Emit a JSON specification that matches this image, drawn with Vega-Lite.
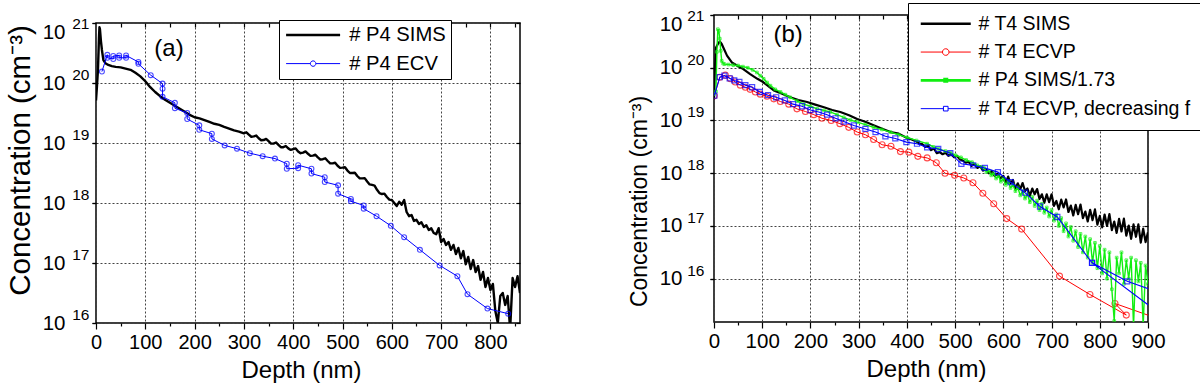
{
"$schema": "https://vega.github.io/schema/vega-lite/v6.json",
"background": "white",
"padding": {"top": 1, "left": 4, "right": 0, "bottom": 0},
"spacing": 105,
"resolve": {"scale": {"x": "independent", "y": "independent", "color": "independent"}},
"config": {
  "font": "Liberation Sans",
  "view": {"stroke": "#000000", "strokeWidth": 1.5},
  "axis": {"domain": false, "labelColor": "#000", "titleColor": "#000", "titleFontWeight": "normal", "tickColor": "#000", "tickWidth": 1.2, "gridColor": "#444", "gridDash": [2, 2], "gridWidth": 1, "labelFont": "Liberation Sans", "titleFont": "Liberation Sans", "labelFlush": false, "labelOverlap": false},
  "legend": {"labelFont": "Liberation Sans", "labelColor": "#000", "labelLimit": 1000}
},
"hconcat": [
 {"vconcat": [
   {"width": 1, "height": 8, "view": {"stroke": null}, "data": {"values": [{"s": 0}]}, "mark": {"type": "point", "opacity": 0}, "encoding": {}},
   {"width": 424, "height": 300,
    "data": {"values": [
{"s":"# P4 SIMS","d":0,"c":5.13e19},{"s":"# P4 SIMS","d":2,"c":8.91e19},{"s":"# P4 SIMS","d":4,"c":1.66e20},{"s":"# P4 SIMS","d":6,"c":5.62e20},{"s":"# P4 SIMS","d":7,"c":8.51e20},{"s":"# P4 SIMS","d":8,"c":7.94e20},{"s":"# P4 SIMS","d":10,"c":5.01e20},{"s":"# P4 SIMS","d":12,"c":3.55e20},{"s":"# P4 SIMS","d":15,"c":2.40e20},{"s":"# P4 SIMS","d":19,"c":2.14e20},{"s":"# P4 SIMS","d":25,"c":2.00e20},{"s":"# P4 SIMS","d":32,"c":1.91e20},{"s":"# P4 SIMS","d":40,"c":1.86e20},{"s":"# P4 SIMS","d":50,"c":1.82e20},{"s":"# P4 SIMS","d":60,"c":1.74e20},{"s":"# P4 SIMS","d":70,"c":1.66e20},{"s":"# P4 SIMS","d":80,"c":1.48e20},{"s":"# P4 SIMS","d":90,"c":1.29e20},{"s":"# P4 SIMS","d":100,"c":1.07e20},{"s":"# P4 SIMS","d":110,"c":8.51e19},{"s":"# P4 SIMS","d":120,"c":7.08e19},{"s":"# P4 SIMS","d":130,"c":6.03e19},{"s":"# P4 SIMS","d":140,"c":5.25e19},{"s":"# P4 SIMS","d":150,"c":4.68e19},{"s":"# P4 SIMS","d":160,"c":4.17e19},{"s":"# P4 SIMS","d":170,"c":3.72e19},{"s":"# P4 SIMS","d":180,"c":3.31e19},{"s":"# P4 SIMS","d":190,"c":2.95e19},{"s":"# P4 SIMS","d":200,"c":2.69e19},{"s":"# P4 SIMS","d":210,"c":2.57e19},{"s":"# P4 SIMS","d":220,"c":2.40e19},{"s":"# P4 SIMS","d":230,"c":2.24e19},{"s":"# P4 SIMS","d":240,"c":2.09e19},{"s":"# P4 SIMS","d":250,"c":2.00e19},{"s":"# P4 SIMS","d":260,"c":1.86e19},{"s":"# P4 SIMS","d":270,"c":1.74e19},{"s":"# P4 SIMS","d":280,"c":1.62e19},{"s":"# P4 SIMS","d":290,"c":1.55e19},{"s":"# P4 SIMS","d":300,"c":1.45e19},{"s":"# P4 SIMS","d":305,"c":1.51e19},{"s":"# P4 SIMS","d":310,"c":1.38e19},{"s":"# P4 SIMS","d":315,"c":1.27e19},{"s":"# P4 SIMS","d":320,"c":1.29e19},{"s":"# P4 SIMS","d":325,"c":1.33e19},{"s":"# P4 SIMS","d":330,"c":1.20e19},{"s":"# P4 SIMS","d":335,"c":1.11e19},{"s":"# P4 SIMS","d":340,"c":1.12e19},{"s":"# P4 SIMS","d":345,"c":1.17e19},{"s":"# P4 SIMS","d":350,"c":1.07e19},{"s":"# P4 SIMS","d":355,"c":9.77e18},{"s":"# P4 SIMS","d":360,"c":9.77e18},{"s":"# P4 SIMS","d":365,"c":1.02e19},{"s":"# P4 SIMS","d":370,"c":9.33e18},{"s":"# P4 SIMS","d":375,"c":8.51e18},{"s":"# P4 SIMS","d":380,"c":8.51e18},{"s":"# P4 SIMS","d":385,"c":8.91e18},{"s":"# P4 SIMS","d":390,"c":8.13e18},{"s":"# P4 SIMS","d":395,"c":7.67e18},{"s":"# P4 SIMS","d":400,"c":7.94e18},{"s":"# P4 SIMS","d":405,"c":8.13e18},{"s":"# P4 SIMS","d":410,"c":7.24e18},{"s":"# P4 SIMS","d":415,"c":6.76e18},{"s":"# P4 SIMS","d":420,"c":6.92e18},{"s":"# P4 SIMS","d":425,"c":7.24e18},{"s":"# P4 SIMS","d":430,"c":6.61e18},{"s":"# P4 SIMS","d":435,"c":6.10e18},{"s":"# P4 SIMS","d":440,"c":6.17e18},{"s":"# P4 SIMS","d":445,"c":6.38e18},{"s":"# P4 SIMS","d":450,"c":5.75e18},{"s":"# P4 SIMS","d":455,"c":5.31e18},{"s":"# P4 SIMS","d":460,"c":5.37e18},{"s":"# P4 SIMS","d":465,"c":5.56e18},{"s":"# P4 SIMS","d":470,"c":5.01e18},{"s":"# P4 SIMS","d":475,"c":4.57e18},{"s":"# P4 SIMS","d":480,"c":4.57e18},{"s":"# P4 SIMS","d":485,"c":4.68e18},{"s":"# P4 SIMS","d":490,"c":4.17e18},{"s":"# P4 SIMS","d":495,"c":3.85e18},{"s":"# P4 SIMS","d":500,"c":3.89e18},{"s":"# P4 SIMS","d":505,"c":3.94e18},{"s":"# P4 SIMS","d":510,"c":3.47e18},{"s":"# P4 SIMS","d":515,"c":3.16e18},{"s":"# P4 SIMS","d":520,"c":3.16e18},{"s":"# P4 SIMS","d":525,"c":3.20e18},{"s":"# P4 SIMS","d":530,"c":2.82e18},{"s":"# P4 SIMS","d":535,"c":2.57e18},{"s":"# P4 SIMS","d":540,"c":2.57e18},{"s":"# P4 SIMS","d":545,"c":2.60e18},{"s":"# P4 SIMS","d":550,"c":2.29e18},{"s":"# P4 SIMS","d":555,"c":2.04e18},{"s":"# P4 SIMS","d":560,"c":2.00e18},{"s":"# P4 SIMS","d":565,"c":1.95e18},{"s":"# P4 SIMS","d":570,"c":1.66e18},{"s":"# P4 SIMS","d":575,"c":1.46e18},{"s":"# P4 SIMS","d":580,"c":1.41e18},{"s":"# P4 SIMS","d":585,"c":1.43e18},{"s":"# P4 SIMS","d":590,"c":1.26e18},{"s":"# P4 SIMS","d":595,"c":1.14e18},{"s":"# P4 SIMS","d":600,"c":1.12e18},{"s":"# P4 SIMS","d":605,"c":1.00e18},{"s":"# P4 SIMS","d":610,"c":8.91e17},{"s":"# P4 SIMS","d":615,"c":1.05e18},{"s":"# P4 SIMS","d":620,"c":9.33e17},{"s":"# P4 SIMS","d":625,"c":1.12e18},{"s":"# P4 SIMS","d":630,"c":7.08e17},{"s":"# P4 SIMS","d":635,"c":6.03e17},{"s":"# P4 SIMS","d":640,"c":6.31e17},{"s":"# P4 SIMS","d":645,"c":5.01e17},{"s":"# P4 SIMS","d":650,"c":5.25e17},{"s":"# P4 SIMS","d":655,"c":4.47e17},{"s":"# P4 SIMS","d":660,"c":4.79e17},{"s":"# P4 SIMS","d":665,"c":3.98e17},{"s":"# P4 SIMS","d":670,"c":4.27e17},{"s":"# P4 SIMS","d":675,"c":3.55e17},{"s":"# P4 SIMS","d":680,"c":3.80e17},{"s":"# P4 SIMS","d":685,"c":3.16e17},{"s":"# P4 SIMS","d":690,"c":3.02e17},{"s":"# P4 SIMS","d":695,"c":3.80e17},{"s":"# P4 SIMS","d":700,"c":2.24e17},{"s":"# P4 SIMS","d":705,"c":2.51e17},{"s":"# P4 SIMS","d":710,"c":2.00e17},{"s":"# P4 SIMS","d":715,"c":2.24e17},{"s":"# P4 SIMS","d":720,"c":1.66e17},{"s":"# P4 SIMS","d":725,"c":2.00e17},{"s":"# P4 SIMS","d":730,"c":1.41e17},{"s":"# P4 SIMS","d":735,"c":1.78e17},{"s":"# P4 SIMS","d":740,"c":1.20e17},{"s":"# P4 SIMS","d":745,"c":1.58e17},{"s":"# P4 SIMS","d":750,"c":9.55e16},{"s":"# P4 SIMS","d":755,"c":1.26e17},{"s":"# P4 SIMS","d":760,"c":7.94e16},{"s":"# P4 SIMS","d":765,"c":1.12e17},{"s":"# P4 SIMS","d":770,"c":7.08e16},{"s":"# P4 SIMS","d":775,"c":8.91e16},{"s":"# P4 SIMS","d":780,"c":5.25e16},{"s":"# P4 SIMS","d":785,"c":7.08e16},{"s":"# P4 SIMS","d":790,"c":3.98e16},{"s":"# P4 SIMS","d":795,"c":5.62e16},{"s":"# P4 SIMS","d":800,"c":3.55e16},{"s":"# P4 SIMS","d":805,"c":4.47e16},{"s":"# P4 SIMS","d":810,"c":1.58e16},{"s":"# P4 SIMS","d":815,"c":1.00e16},{"s":"# P4 SIMS","d":820,"c":2.82e16},{"s":"# P4 SIMS","d":825,"c":3.16e16},{"s":"# P4 SIMS","d":830,"c":2.00e16},{"s":"# P4 SIMS","d":835,"c":2.82e16},{"s":"# P4 SIMS","d":840,"c":7.94e15},{"s":"# P4 SIMS","d":845,"c":5.62e16},{"s":"# P4 SIMS","d":850,"c":3.98e16},{"s":"# P4 SIMS","d":855,"c":6.03e16},{"s":"# P4 SIMS","d":860,"c":3.16e16},
{"s":"# P4 ECV","o":1,"d":12,"c":1.55e20},{"s":"# P4 ECV","o":2,"d":23,"c":2.95e20},{"s":"# P4 ECV","o":3,"d":23,"c":2.63e20},{"s":"# P4 ECV","o":4,"d":35,"c":2.51e20},{"s":"# P4 ECV","o":5,"d":35,"c":2.82e20},{"s":"# P4 ECV","o":6,"d":47,"c":2.88e20},{"s":"# P4 ECV","o":7,"d":47,"c":2.63e20},{"s":"# P4 ECV","o":8,"d":61,"c":2.63e20},{"s":"# P4 ECV","o":9,"d":61,"c":2.88e20},{"s":"# P4 ECV","o":10,"d":86,"c":2.24e20},{"s":"# P4 ECV","o":11,"d":86,"c":2.09e20},{"s":"# P4 ECV","o":12,"d":111,"c":1.35e20},{"s":"# P4 ECV","o":13,"d":135,"c":9.77e19},{"s":"# P4 ECV","o":14,"d":135,"c":8.04e19},{"s":"# P4 ECV","o":15,"d":135,"c":5.89e19},{"s":"# P4 ECV","o":16,"d":160,"c":4.68e19},{"s":"# P4 ECV","o":17,"d":160,"c":3.80e19},{"s":"# P4 ECV","o":18,"d":185,"c":3.16e19},{"s":"# P4 ECV","o":19,"d":185,"c":2.51e19},{"s":"# P4 ECV","o":20,"d":209.5,"c":1.97e19},{"s":"# P4 ECV","o":21,"d":209.5,"c":1.66e19},{"s":"# P4 ECV","o":22,"d":235,"c":1.43e19},{"s":"# P4 ECV","o":23,"d":235,"c":1.17e19},{"s":"# P4 ECV","o":24,"d":261,"c":9.12e18},{"s":"# P4 ECV","o":25,"d":286,"c":8.04e18},{"s":"# P4 ECV","o":26,"d":312,"c":6.76e18},{"s":"# P4 ECV","o":27,"d":338,"c":6.03e18},{"s":"# P4 ECV","o":28,"d":363,"c":5.50e18},{"s":"# P4 ECV","o":29,"d":387,"c":4.52e18},{"s":"# P4 ECV","o":30,"d":387,"c":3.72e18},{"s":"# P4 ECV","o":31,"d":410,"c":3.80e18},{"s":"# P4 ECV","o":32,"d":410,"c":4.27e18},{"s":"# P4 ECV","o":33,"d":437,"c":3.72e18},{"s":"# P4 ECV","o":34,"d":437,"c":3.09e18},{"s":"# P4 ECV","o":35,"d":464,"c":2.69e18},{"s":"# P4 ECV","o":36,"d":464,"c":2.24e18},{"s":"# P4 ECV","o":37,"d":491,"c":1.97e18},{"s":"# P4 ECV","o":38,"d":491,"c":1.43e18},{"s":"# P4 ECV","o":39,"d":517,"c":1.17e18},{"s":"# P4 ECV","o":40,"d":517,"c":1.07e18},{"s":"# P4 ECV","o":41,"d":543,"c":9.12e17},{"s":"# P4 ECV","o":42,"d":543,"c":8.04e17},{"s":"# P4 ECV","o":43,"d":569,"c":6.03e17},{"s":"# P4 ECV","o":44,"d":598,"c":4.17e17},{"s":"# P4 ECV","o":45,"d":625,"c":2.69e17},{"s":"# P4 ECV","o":46,"d":657,"c":1.66e17},{"s":"# P4 ECV","o":47,"d":697,"c":9.12e16},{"s":"# P4 ECV","o":48,"d":733,"c":6.03e16},{"s":"# P4 ECV","o":49,"d":753.5,"c":3.02e16},{"s":"# P4 ECV","o":50,"d":794,"c":1.74e16},{"s":"# P4 ECV","o":51,"d":836,"c":1.43e16}
    ]},
    "resolve": {"axis": {"x": "independent", "y": "independent"}},
    "layer": [
     {"transform": [{"filter": "datum.s === '# P4 SIMS'"}],
      "mark": {"type": "line", "strokeWidth": 2.4, "clip": true, "strokeJoin": "round"},
      "encoding": {
        "x": {"field": "d", "type": "quantitative", "scale": {"domain": [0, 860], "nice": false, "zero": false},
              "axis": {"orient": "bottom", "values": [0,100,200,300,400,500,600,700,800], "grid": true, "tickSize": 6, "labelFontSize": 20, "labelPadding": 3, "title": "Depth (nm)", "titleFontSize": 24, "titlePadding": 6, "titleX": 205}},
        "y": {"field": "c", "type": "quantitative", "scale": {"type": "log", "domain": [1e16, 1e21], "nice": false},
              "axis": {"orient": "left", "values": [1e16,1e17,1e18,1e19,1e20,1e21], "grid": true, "tickSize": 4, "labelExpr": "'10'", "labelFontSize": 20.5, "labelPadding": 27, "labelOffset": {"condition": {"test": "datum.value > 5e20", "value": 9}, "value": 0}, "title": "Concentration (cm⁻³)", "titleFontSize": 29.5, "titlePadding": 7, "titleY": 137}},
        "color": {"field": "s", "type": "nominal", "scale": {"domain": ["# P4 SIMS", "# P4 ECV"], "range": ["#000000", "#0000ff"]},
                  "legend": {"title": null, "orient": "none", "legendX": 183, "legendY": 5, "strokeColor": "#000", "fillColor": "#fff", "padding": 5, "rowPadding": 7.5, "labelFontSize": 20.2, "labelLimit": 1000, "symbolSize": 256, "symbolOffset": 19, "labelOffset": 26, "symbolStrokeWidth": 1,
                    "encode": {"symbols": {"update": {
                      "shape": {"signal": "datum.value === '# P4 SIMS' ? 'M-3.375,0H3.375' : 'M-3.375,0H-0.34M0.34,0H3.375M0.34,0A0.34,0.34 0 1 1 -0.34,0A0.34,0.34 0 1 1 0.34,0'"},
                      "strokeWidth": {"signal": "datum.value === '# P4 SIMS' ? 2.5 : 1"},
                      "fill": {"value": "transparent"}}}}}}
      }},
     {"transform": [{"filter": "datum.s === '# P4 ECV'"}],
      "mark": {"type": "line", "strokeWidth": 1, "color": "#0000ff", "clip": true},
      "encoding": {
        "x": {"field": "d", "type": "quantitative", "scale": {"domain": [0, 860], "nice": false, "zero": false},
              "axis": {"orient": "top", "values": [50,100,150,200,250,300,350,400,450,500,550,600,650,700,750,800,850], "grid": false, "tickSize": -4, "labels": false, "title": null}},
        "y": {"field": "c", "type": "quantitative", "scale": {"type": "log", "domain": [1e16, 1e21], "nice": false},
              "axis": {"orient": "right", "values": [1e16,1e17,1e18,1e19,1e20,1e21], "grid": false, "tickSize": -4, "labels": false, "title": null}},
        "order": {"field": "o", "type": "quantitative"}
      }},
     {"transform": [{"filter": "datum.s === '# P4 ECV'"}],
      "mark": {"type": "point", "shape": "circle", "filled": false, "size": 24, "strokeWidth": 1.1, "color": "#0000ff", "clip": true},
      "encoding": {
        "x": {"field": "d", "type": "quantitative", "scale": {"domain": [0, 860], "nice": false, "zero": false},
              "axis": {"orient": "bottom", "values": [50,150,250,350,450,550,650,750,850], "grid": false, "tickSize": 3, "labels": false, "title": null}},
        "y": {"field": "c", "type": "quantitative", "scale": {"type": "log", "domain": [1e16, 1e21], "nice": false},
              "axis": {"orient": "left", "values": [1e16,1e17,1e18,1e19,1e20,1e21], "grid": false, "tickSize": 4, "labelExpr": "format(round(log(datum.value)/LN10),'d')", "labelFontSize": 15.5, "labelPadding": 3, "labelOffset": {"condition": {"test": "datum.value > 5e20", "value": 0}, "value": -8.5}, "title": null}}
      }},
     {"data": {"values": [{"d": 148, "c": 3.72e20, "t": "(a)"}]},
      "mark": {"type": "text", "fontSize": 24, "color": "#000"},
      "encoding": {
        "x": {"field": "d", "type": "quantitative", "scale": {"domain": [0, 860], "nice": false, "zero": false}, "axis": null},
        "y": {"field": "c", "type": "quantitative", "scale": {"type": "log", "domain": [1e16, 1e21], "nice": false}, "axis": null},
        "text": {"field": "t"}
      }}
    ]}
  ], "spacing": 0, "bounds": "flush"},
 {"width": 434, "height": 307,
  "data": {"values": [
{"s":"# T4 SIMS","d":0,"c":2.51e19},{"s":"# T4 SIMS","d":2,"c":1.00e20},{"s":"# T4 SIMS","d":4,"c":2.40e20},{"s":"# T4 SIMS","d":8,"c":2.82e20},{"s":"# T4 SIMS","d":12,"c":3.16e20},{"s":"# T4 SIMS","d":16,"c":2.82e20},{"s":"# T4 SIMS","d":20,"c":2.34e20},{"s":"# T4 SIMS","d":27,"c":1.70e20},{"s":"# T4 SIMS","d":37,"c":1.26e20},{"s":"# T4 SIMS","d":50,"c":1.07e20},{"s":"# T4 SIMS","d":60,"c":9.55e19},{"s":"# T4 SIMS","d":75,"c":7.59e19},{"s":"# T4 SIMS","d":90,"c":6.17e19},{"s":"# T4 SIMS","d":100,"c":5.50e19},{"s":"# T4 SIMS","d":110,"c":4.68e19},{"s":"# T4 SIMS","d":124,"c":3.72e19},{"s":"# T4 SIMS","d":140,"c":3.24e19},{"s":"# T4 SIMS","d":158,"c":2.75e19},{"s":"# T4 SIMS","d":175,"c":2.45e19},{"s":"# T4 SIMS","d":193,"c":2.24e19},{"s":"# T4 SIMS","d":210,"c":2.00e19},{"s":"# T4 SIMS","d":228,"c":1.78e19},{"s":"# T4 SIMS","d":245,"c":1.58e19},{"s":"# T4 SIMS","d":262,"c":1.45e19},{"s":"# T4 SIMS","d":280,"c":1.26e19},{"s":"# T4 SIMS","d":297,"c":1.07e19},{"s":"# T4 SIMS","d":315,"c":9.33e18},{"s":"# T4 SIMS","d":331,"c":8.13e18},{"s":"# T4 SIMS","d":350,"c":6.92e18},{"s":"# T4 SIMS","d":366,"c":6.03e18},{"s":"# T4 SIMS","d":383,"c":5.62e18},{"s":"# T4 SIMS","d":400,"c":4.68e18},{"s":"# T4 SIMS","d":410,"c":4.37e18},{"s":"# T4 SIMS","d":420,"c":3.98e18},{"s":"# T4 SIMS","d":426,"c":3.63e18},{"s":"# T4 SIMS","d":432,"c":3.55e18},{"s":"# T4 SIMS","d":438,"c":3.16e18},{"s":"# T4 SIMS","d":444,"c":3.31e18},{"s":"# T4 SIMS","d":450,"c":2.75e18},{"s":"# T4 SIMS","d":456,"c":2.95e18},{"s":"# T4 SIMS","d":462,"c":2.40e18},{"s":"# T4 SIMS","d":468,"c":2.51e18},{"s":"# T4 SIMS","d":474,"c":2.29e18},{"s":"# T4 SIMS","d":480,"c":2.45e18},{"s":"# T4 SIMS","d":486,"c":2.14e18},{"s":"# T4 SIMS","d":492,"c":2.29e18},{"s":"# T4 SIMS","d":498,"c":2.00e18},{"s":"# T4 SIMS","d":504,"c":2.14e18},{"s":"# T4 SIMS","d":510,"c":1.82e18},{"s":"# T4 SIMS","d":516,"c":1.74e18},{"s":"# T4 SIMS","d":522,"c":1.58e18},{"s":"# T4 SIMS","d":528,"c":1.66e18},{"s":"# T4 SIMS","d":534,"c":1.38e18},{"s":"# T4 SIMS","d":540,"c":1.48e18},{"s":"# T4 SIMS","d":546,"c":1.26e18},{"s":"# T4 SIMS","d":552,"c":1.35e18},{"s":"# T4 SIMS","d":558,"c":1.12e18},{"s":"# T4 SIMS","d":564,"c":1.20e18},{"s":"# T4 SIMS","d":570,"c":1.00e18},{"s":"# T4 SIMS","d":576,"c":1.10e18},{"s":"# T4 SIMS","d":582,"c":8.91e17},{"s":"# T4 SIMS","d":588,"c":9.77e17},{"s":"# T4 SIMS","d":594,"c":7.94e17},
{"s":"# T4 SIMS","d":600,"c":8.91e17},{"s":"# T4 SIMS","d":605,"c":6.58e17},{"s":"# T4 SIMS","d":610,"c":8.63e17},{"s":"# T4 SIMS","d":615,"c":6.37e17},{"s":"# T4 SIMS","d":620,"c":7.45e17},{"s":"# T4 SIMS","d":625,"c":5.13e17},{"s":"# T4 SIMS","d":630,"c":6.43e17},{"s":"# T4 SIMS","d":635,"c":4.97e17},{"s":"# T4 SIMS","d":640,"c":6.52e17},{"s":"# T4 SIMS","d":645,"c":4.59e17},{"s":"# T4 SIMS","d":650,"c":5.13e17},{"s":"# T4 SIMS","d":655,"c":3.72e17},{"s":"# T4 SIMS","d":660,"c":5.13e17},{"s":"# T4 SIMS","d":665,"c":3.98e17},{"s":"# T4 SIMS","d":670,"c":5.01e17},{"s":"# T4 SIMS","d":675,"c":3.24e17},{"s":"# T4 SIMS","d":680,"c":3.98e17},{"s":"# T4 SIMS","d":685,"c":2.75e17},{"s":"# T4 SIMS","d":690,"c":3.98e17},{"s":"# T4 SIMS","d":695,"c":2.82e17},{"s":"# T4 SIMS","d":700,"c":3.98e17},{"s":"# T4 SIMS","d":705,"c":2.41e17},{"s":"# T4 SIMS","d":710,"c":2.98e17},{"s":"# T4 SIMS","d":715,"c":2.07e17},{"s":"# T4 SIMS","d":720,"c":3.15e17},{"s":"# T4 SIMS","d":725,"c":2.24e17},{"s":"# T4 SIMS","d":730,"c":3.18e17},{"s":"# T4 SIMS","d":735,"c":1.84e17},{"s":"# T4 SIMS","d":740,"c":2.43e17},{"s":"# T4 SIMS","d":745,"c":1.58e17},{"s":"# T4 SIMS","d":750,"c":2.51e17},{"s":"# T4 SIMS","d":755,"c":1.67e17},{"s":"# T4 SIMS","d":760,"c":2.55e17},{"s":"# T4 SIMS","d":765,"c":1.41e17},{"s":"# T4 SIMS","d":770,"c":1.87e17},{"s":"# T4 SIMS","d":775,"c":1.22e17},{"s":"# T4 SIMS","d":780,"c":2.03e17},{"s":"# T4 SIMS","d":785,"c":1.29e17},{"s":"# T4 SIMS","d":790,"c":2.06e17},{"s":"# T4 SIMS","d":795,"c":1.06e17},{"s":"# T4 SIMS","d":800,"c":1.55e17},{"s":"# T4 SIMS","d":805,"c":9.42e16},{"s":"# T4 SIMS","d":810,"c":1.65e17},{"s":"# T4 SIMS","d":815,"c":1.00e17},{"s":"# T4 SIMS","d":820,"c":1.68e17},{"s":"# T4 SIMS","d":825,"c":8.32e16},{"s":"# T4 SIMS","d":830,"c":1.21e17},{"s":"# T4 SIMS","d":835,"c":7.38e16},{"s":"# T4 SIMS","d":840,"c":1.36e17},{"s":"# T4 SIMS","d":845,"c":7.87e16},{"s":"# T4 SIMS","d":850,"c":1.38e17},{"s":"# T4 SIMS","d":855,"c":6.53e16},{"s":"# T4 SIMS","d":860,"c":1.02e17},{"s":"# T4 SIMS","d":865,"c":5.69e16},{"s":"# T4 SIMS","d":870,"c":1.07e17},{"s":"# T4 SIMS","d":875,"c":6.24e16},{"s":"# T4 SIMS","d":880,"c":1.07e17},{"s":"# T4 SIMS","d":885,"c":4.84e16},{"s":"# T4 SIMS","d":890,"c":8.91e16},{"s":"# T4 SIMS","d":895,"c":4.95e16},{"s":"# T4 SIMS","d":900,"c":7.59e16},
{"s":"# T4 ECVP","o":1,"d":0.6,"c":2.95e19},{"s":"# T4 ECVP","o":2,"d":12,"c":6.61e19},{"s":"# T4 ECVP","o":3,"d":23.5,"c":7.24e19},{"s":"# T4 ECVP","o":4,"d":34,"c":6.17e19},{"s":"# T4 ECVP","o":5,"d":44,"c":5.37e19},{"s":"# T4 ECVP","o":6,"d":54.6,"c":4.68e19},{"s":"# T4 ECVP","o":7,"d":65,"c":4.27e19},{"s":"# T4 ECVP","o":8,"d":75,"c":3.89e19},{"s":"# T4 ECVP","o":9,"d":85.7,"c":3.47e19},{"s":"# T4 ECVP","o":10,"d":96,"c":3.16e19},{"s":"# T4 ECVP","o":11,"d":110,"c":2.88e19},{"s":"# T4 ECVP","o":12,"d":124,"c":2.57e19},{"s":"# T4 ECVP","o":13,"d":137.6,"c":2.29e19},{"s":"# T4 ECVP","o":14,"d":155,"c":2.04e19},{"s":"# T4 ECVP","o":15,"d":172,"c":1.66e19},{"s":"# T4 ECVP","o":16,"d":189.5,"c":1.48e19},{"s":"# T4 ECVP","o":17,"d":207,"c":1.29e19},{"s":"# T4 ECVP","o":18,"d":224,"c":1.10e19},{"s":"# T4 ECVP","o":19,"d":243,"c":1.00e19},{"s":"# T4 ECVP","o":20,"d":261,"c":8.71e18},{"s":"# T4 ECVP","o":21,"d":279.5,"c":7.41e18},{"s":"# T4 ECVP","o":22,"d":297,"c":6.03e18},{"s":"# T4 ECVP","o":23,"d":314,"c":5.37e18},{"s":"# T4 ECVP","o":24,"d":331,"c":4.37e18},{"s":"# T4 ECVP","o":25,"d":348.6,"c":3.47e18},{"s":"# T4 ECVP","o":26,"d":367,"c":3.24e18},{"s":"# T4 ECVP","o":27,"d":386.6,"c":2.57e18},{"s":"# T4 ECVP","o":28,"d":404,"c":2.51e18},{"s":"# T4 ECVP","o":29,"d":422.7,"c":2.09e18},{"s":"# T4 ECVP","o":30,"d":442,"c":1.95e18},{"s":"# T4 ECVP","o":31,"d":461,"c":1.58e18},{"s":"# T4 ECVP","o":32,"d":479,"c":1.00e18},{"s":"# T4 ECVP","o":33,"d":499,"c":9.12e17},{"s":"# T4 ECVP","o":34,"d":518,"c":8.13e17},{"s":"# T4 ECVP","o":35,"d":537,"c":6.61e17},{"s":"# T4 ECVP","o":36,"d":557.5,"c":4.17e17},{"s":"# T4 ECVP","o":37,"d":580,"c":2.63e17},{"s":"# T4 ECVP","o":38,"d":607,"c":1.38e17},{"s":"# T4 ECVP","o":39,"d":638,"c":8.71e16},{"s":"# T4 ECVP","o":40,"d":716.5,"c":1.12e16},{"s":"# T4 ECVP","o":41,"d":779.6,"c":5.01e15},{"s":"# T4 ECVP","o":42,"d":855,"c":2.04e15},{"s":"# T4 ECVP","o":43,"d":831.5,"c":3.39e15},{"s":"# T4 ECVP","o":44,"d":940,"c":1.51e15},
{"s":"# P4 SIMS/1.73","d":0,"c":3.16e19},{"s":"# P4 SIMS/1.73","d":4,"c":3.55e19},{"s":"# P4 SIMS/1.73","d":6,"c":2.00e20},{"s":"# P4 SIMS/1.73","d":8,"c":5.37e20},{"s":"# P4 SIMS/1.73","d":10,"c":5.01e20},{"s":"# P4 SIMS/1.73","d":12,"c":3.55e20},{"s":"# P4 SIMS/1.73","d":14,"c":2.09e20},{"s":"# P4 SIMS/1.73","d":16,"c":1.35e20},{"s":"# P4 SIMS/1.73","d":19,"c":1.20e20},{"s":"# P4 SIMS/1.73","d":22,"c":1.17e20},{"s":"# P4 SIMS/1.73","d":30,"c":1.15e20},{"s":"# P4 SIMS/1.73","d":40,"c":1.12e20},{"s":"# P4 SIMS/1.73","d":50,"c":1.10e20},{"s":"# P4 SIMS/1.73","d":60,"c":1.05e20},{"s":"# P4 SIMS/1.73","d":70,"c":1.00e20},{"s":"# P4 SIMS/1.73","d":80,"c":9.12e19},{"s":"# P4 SIMS/1.73","d":89,"c":8.13e19},{"s":"# P4 SIMS/1.73","d":96,"c":7.08e19},{"s":"# P4 SIMS/1.73","d":103,"c":6.17e19},{"s":"# P4 SIMS/1.73","d":110,"c":5.25e19},{"s":"# P4 SIMS/1.73","d":117,"c":4.57e19},{"s":"# P4 SIMS/1.73","d":127,"c":3.89e19},{"s":"# P4 SIMS/1.73","d":138,"c":3.47e19},{"s":"# P4 SIMS/1.73","d":148,"c":3.09e19},{"s":"# P4 SIMS/1.73","d":158,"c":2.75e19},{"s":"# P4 SIMS/1.73","d":172,"c":2.34e19},{"s":"# P4 SIMS/1.73","d":186,"c":2.04e19},{"s":"# P4 SIMS/1.73","d":200,"c":1.86e19},{"s":"# P4 SIMS/1.73","d":214,"c":1.66e19},{"s":"# P4 SIMS/1.73","d":228,"c":1.55e19},{"s":"# P4 SIMS/1.73","d":241,"c":1.45e19},{"s":"# P4 SIMS/1.73","d":255,"c":1.29e19},{"s":"# P4 SIMS/1.73","d":269,"c":1.15e19},{"s":"# P4 SIMS/1.73","d":283,"c":1.02e19},{"s":"# P4 SIMS/1.73","d":297,"c":9.33e18},{"s":"# P4 SIMS/1.73","d":314,"c":8.32e18},{"s":"# P4 SIMS/1.73","d":331,"c":7.41e18},{"s":"# P4 SIMS/1.73","d":348,"c":6.76e18},{"s":"# P4 SIMS/1.73","d":366,"c":6.03e18},{"s":"# P4 SIMS/1.73","d":383,"c":5.37e18},{"s":"# P4 SIMS/1.73","d":400,"c":4.79e18},{"s":"# P4 SIMS/1.73","d":420,"c":4.17e18},{"s":"# P4 SIMS/1.73","d":442,"c":3.63e18},{"s":"# P4 SIMS/1.73","d":455,"c":3.16e18},{"s":"# P4 SIMS/1.73","d":466,"c":2.88e18},{"s":"# P4 SIMS/1.73","d":480,"c":2.63e18},{"s":"# P4 SIMS/1.73","d":490,"c":2.45e18},{"s":"# P4 SIMS/1.73","d":501,"c":2.19e18},{"s":"# P4 SIMS/1.73","d":512,"c":2.00e18},{"s":"# P4 SIMS/1.73","d":523,"c":1.78e18},{"s":"# P4 SIMS/1.73","d":535,"c":1.62e18},{"s":"# P4 SIMS/1.73","d":546,"c":1.41e18},{"s":"# P4 SIMS/1.73","d":555,"c":1.32e18},{"s":"# P4 SIMS/1.73","d":560,"c":1.26e18},{"s":"# P4 SIMS/1.73","d":565,"c":1.05e18},{"s":"# P4 SIMS/1.73","d":570,"c":1.12e18},{"s":"# P4 SIMS/1.73","d":575,"c":9.12e17},{"s":"# P4 SIMS/1.73","d":580,"c":1.00e18},{"s":"# P4 SIMS/1.73","d":585,"c":7.94e17},{"s":"# P4 SIMS/1.73","d":590,"c":8.91e17},{"s":"# P4 SIMS/1.73","d":595,"c":6.92e17},{"s":"# P4 SIMS/1.73","d":600,"c":7.94e17},{"s":"# P4 SIMS/1.73","d":605,"c":6.03e17},{"s":"# P4 SIMS/1.73","d":610,"c":6.92e17},{"s":"# P4 SIMS/1.73","d":615,"c":5.25e17},{"s":"# P4 SIMS/1.73","d":620,"c":6.03e17},{"s":"# P4 SIMS/1.73","d":625,"c":4.57e17},{"s":"# P4 SIMS/1.73","d":630,"c":5.37e17},{"s":"# P4 SIMS/1.73","d":635,"c":3.80e17},{"s":"# P4 SIMS/1.73","d":640,"c":4.57e17},{"s":"# P4 SIMS/1.73","d":645,"c":3.31e17},{"s":"# P4 SIMS/1.73","d":650,"c":3.98e17},{"s":"# P4 SIMS/1.73","d":655,"c":2.82e17},{"s":"# P4 SIMS/1.73","d":660,"c":3.55e17},{"s":"# P4 SIMS/1.73","d":665,"c":2.40e17},{"s":"# P4 SIMS/1.73","d":670,"c":3.02e17},{"s":"# P4 SIMS/1.73","d":675,"c":2.00e17},{"s":"# P4 SIMS/1.73","d":680,"c":2.63e17},{"s":"# P4 SIMS/1.73","d":685,"c":1.78e17},{"s":"# P4 SIMS/1.73","d":690,"c":2.24e17},{"s":"# P4 SIMS/1.73","d":695,"c":1.51e17},{"s":"# P4 SIMS/1.73","d":700,"c":2.00e17},{"s":"# P4 SIMS/1.73","d":705,"c":1.26e17},{"s":"# P4 SIMS/1.73","d":710,"c":1.66e17},{"s":"# P4 SIMS/1.73","d":715,"c":1.00e17},{"s":"# P4 SIMS/1.73","d":720,"c":1.41e17},{"s":"# P4 SIMS/1.73","d":725,"c":7.94e16},{"s":"# P4 SIMS/1.73","d":730,"c":1.12e17},{"s":"# P4 SIMS/1.73","d":735,"c":6.31e16},{"s":"# P4 SIMS/1.73","d":740,"c":9.55e16},{"s":"# P4 SIMS/1.73","d":745,"c":5.25e16},{"s":"# P4 SIMS/1.73","d":750,"c":7.94e16},{"s":"# P4 SIMS/1.73","d":755,"c":3.98e16},{"s":"# P4 SIMS/1.73","d":760,"c":7.08e16},{"s":"# P4 SIMS/1.73","d":765,"c":3.16e16},{"s":"# P4 SIMS/1.73","d":770,"c":6.31e16},{"s":"# P4 SIMS/1.73","d":775,"c":2.51e16},{"s":"# P4 SIMS/1.73","d":780,"c":5.62e16},{"s":"# P4 SIMS/1.73","d":785,"c":2.00e16},{"s":"# P4 SIMS/1.73","d":790,"c":4.79e16},{"s":"# P4 SIMS/1.73","d":795,"c":1.58e16},{"s":"# P4 SIMS/1.73","d":800,"c":4.17e16},{"s":"# P4 SIMS/1.73","d":805,"c":1.26e16},{"s":"# P4 SIMS/1.73","d":810,"c":3.55e16},{"s":"# P4 SIMS/1.73","d":815,"c":1.00e16},{"s":"# P4 SIMS/1.73","d":820,"c":3.16e16},{"s":"# P4 SIMS/1.73","d":825,"c":6.31e15},{"s":"# P4 SIMS/1.73","d":830,"c":1.58e15},{"s":"# P4 SIMS/1.73","d":835,"c":2.51e16},{"s":"# P4 SIMS/1.73","d":840,"c":1.26e16},{"s":"# P4 SIMS/1.73","d":845,"c":3.16e16},{"s":"# P4 SIMS/1.73","d":850,"c":7.94e15},{"s":"# P4 SIMS/1.73","d":855,"c":2.24e16},{"s":"# P4 SIMS/1.73","d":860,"c":1.00e16},{"s":"# P4 SIMS/1.73","d":865,"c":2.51e16},{"s":"# P4 SIMS/1.73","d":870,"c":1.26e15},{"s":"# P4 SIMS/1.73","d":875,"c":2.24e16},{"s":"# P4 SIMS/1.73","d":880,"c":8.91e15},{"s":"# P4 SIMS/1.73","d":885,"c":2.00e16},{"s":"# P4 SIMS/1.73","d":890,"c":1.26e15},{"s":"# P4 SIMS/1.73","d":895,"c":1.78e16},{"s":"# P4 SIMS/1.73","d":900,"c":7.94e15},
{"s":"# T4 ECVP, decreasing f","o":1,"d":0.6,"c":2.95e19},{"s":"# T4 ECVP, decreasing f","o":2,"d":12,"c":6.61e19},{"s":"# T4 ECVP, decreasing f","o":3,"d":21.5,"c":7.08e19},{"s":"# T4 ECVP, decreasing f","o":4,"d":32.5,"c":6.31e19},{"s":"# T4 ECVP, decreasing f","o":5,"d":42,"c":5.75e19},{"s":"# T4 ECVP, decreasing f","o":6,"d":52.6,"c":5.37e19},{"s":"# T4 ECVP, decreasing f","o":7,"d":65,"c":4.68e19},{"s":"# T4 ECVP, decreasing f","o":8,"d":79,"c":4.27e19},{"s":"# T4 ECVP, decreasing f","o":9,"d":95,"c":3.47e19},{"s":"# T4 ECVP, decreasing f","o":10,"d":112,"c":3.02e19},{"s":"# T4 ECVP, decreasing f","o":11,"d":129,"c":2.75e19},{"s":"# T4 ECVP, decreasing f","o":12,"d":147,"c":2.40e19},{"s":"# T4 ECVP, decreasing f","o":13,"d":164,"c":2.04e19},{"s":"# T4 ECVP, decreasing f","o":14,"d":182.6,"c":1.86e19},{"s":"# T4 ECVP, decreasing f","o":15,"d":200,"c":1.58e19},{"s":"# T4 ECVP, decreasing f","o":16,"d":217,"c":1.45e19},{"s":"# T4 ECVP, decreasing f","o":17,"d":234.5,"c":1.29e19},{"s":"# T4 ECVP, decreasing f","o":18,"d":252,"c":1.10e19},{"s":"# T4 ECVP, decreasing f","o":19,"d":269,"c":9.55e18},{"s":"# T4 ECVP, decreasing f","o":20,"d":290,"c":8.04e18},{"s":"# T4 ECVP, decreasing f","o":21,"d":314,"c":6.92e18},{"s":"# T4 ECVP, decreasing f","o":22,"d":335,"c":6.03e18},{"s":"# T4 ECVP, decreasing f","o":23,"d":355.5,"c":5.01e18},{"s":"# T4 ECVP, decreasing f","o":24,"d":376,"c":4.57e18},{"s":"# T4 ECVP, decreasing f","o":25,"d":399,"c":3.89e18},{"s":"# T4 ECVP, decreasing f","o":26,"d":421,"c":3.63e18},{"s":"# T4 ECVP, decreasing f","o":27,"d":442,"c":3.09e18},{"s":"# T4 ECVP, decreasing f","o":28,"d":465,"c":2.88e18},{"s":"# T4 ECVP, decreasing f","o":29,"d":490,"c":2.40e18},{"s":"# T4 ECVP, decreasing f","o":30,"d":513,"c":1.51e18},{"s":"# T4 ECVP, decreasing f","o":31,"d":537.5,"c":1.41e18},{"s":"# T4 ECVP, decreasing f","o":32,"d":561.7,"c":1.26e18},{"s":"# T4 ECVP, decreasing f","o":33,"d":588.7,"c":1.05e18},{"s":"# T4 ECVP, decreasing f","o":34,"d":615,"c":6.76e17},{"s":"# T4 ECVP, decreasing f","o":35,"d":645,"c":4.27e17},{"s":"# T4 ECVP, decreasing f","o":36,"d":676,"c":2.34e17},{"s":"# T4 ECVP, decreasing f","o":37,"d":712,"c":1.48e17},{"s":"# T4 ECVP, decreasing f","o":38,"d":784,"c":2.00e16},{"s":"# T4 ECVP, decreasing f","o":39,"d":857,"c":8.91e15},{"s":"# T4 ECVP, decreasing f","o":40,"d":960,"c":4.17e15},{"s":"# T4 ECVP, decreasing f","o":41,"d":930,"c":2.00e15},{"s":"# T4 ECVP, decreasing f","o":42,"d":784,"c":2.00e16}
  ]},
  "resolve": {"axis": {"x": "independent", "y": "independent"}},
  "layer": [
   {"transform": [{"filter": "datum.s === '# T4 SIMS'"}],
    "mark": {"type": "line", "strokeWidth": 2.2, "clip": true, "strokeJoin": "round"},
    "encoding": {
      "x": {"field": "d", "type": "quantitative", "scale": {"domain": [0, 900], "nice": false, "zero": false},
            "axis": {"orient": "bottom", "values": [0,100,200,300,400,500,600,700,800,900], "grid": true, "tickSize": 6, "labelFontSize": 20.5, "labelPadding": 3, "title": "Depth (nm)", "titleFontSize": 24, "titlePadding": 6, "titleX": 212}},
      "y": {"field": "c", "type": "quantitative", "scale": {"type": "log", "domain": [1.51e15, 1e21], "nice": false},
            "axis": {"orient": "left", "values": [1e16,1e17,1e18,1e19,1e20,1e21], "grid": true, "tickSize": 4, "labelExpr": "'10'", "labelFontSize": 20.5, "labelPadding": 28, "labelOffset": {"condition": {"test": "datum.value > 5e20", "value": 9}, "value": 0}, "title": "Concentration (cm⁻³)", "titleFontSize": 23, "titlePadding": 8, "titleY": 186}},
      "color": {"field": "s", "type": "nominal", "scale": {"domain": ["# T4 SIMS", "# T4 ECVP", "# P4 SIMS/1.73", "# T4 ECVP, decreasing f"], "range": ["#000000", "#ff0000", "#11ee11", "#0000ff"]},
                "legend": {"title": null, "orient": "none", "legendX": 194, "legendY": -12, "strokeColor": "#000", "fillColor": "#fff", "padding": 11, "rowPadding": 7.3, "labelFont": "Liberation Sans", "labelFontSize": 19.5, "labelLimit": 1000, "symbolSize": 256, "symbolOffset": 17, "labelOffset": 23, "symbolStrokeWidth": 1,
                  "encode": {"symbols": {"update": {
                    "shape": {"signal": "datum.value === '# T4 SIMS' ? 'M-3.125,0H3.125' : datum.value === '# T4 ECVP' ? 'M-3.125,0H-0.41M0.41,0H3.125M0.41,0A0.41,0.41 0 1 1 -0.41,0A0.41,0.41 0 1 1 0.41,0' : datum.value === '# P4 SIMS/1.73' ? 'M-3.125,0H-0.15M0.15,0H3.125M-0.15,-0.15H0.15V0.15H-0.15Z' : 'M-3.125,0H-0.29M0.29,0H3.125M-0.29,-0.29H0.29V0.29H-0.29Z'"},
                    "strokeWidth": {"signal": "datum.value === '# T4 SIMS' ? 2.6 : datum.value === '# P4 SIMS/1.73' ? 2.6 : 1"},
                    "fill": {"value": "transparent"}}}}}}
    }},
   {"transform": [{"filter": "datum.s === '# T4 ECVP'"}],
    "mark": {"type": "line", "strokeWidth": 1, "color": "#ff0000", "clip": true},
    "encoding": {
      "x": {"field": "d", "type": "quantitative", "scale": {"domain": [0, 900], "nice": false, "zero": false},
            "axis": {"orient": "top", "values": [50,100,150,200,250,300,350,400,450,500,550,600,650,700,750,800,850], "grid": false, "tickSize": -4, "labels": false, "title": null}},
      "y": {"field": "c", "type": "quantitative", "scale": {"type": "log", "domain": [1.51e15, 1e21], "nice": false},
            "axis": {"orient": "right", "values": [1e16,1e17,1e18,1e19,1e20,1e21], "grid": false, "tickSize": -4, "labels": false, "title": null}},
      "order": {"field": "o", "type": "quantitative"}
    }},
   {"transform": [{"filter": "datum.s === '# T4 ECVP'"}],
    "mark": {"type": "point", "shape": "circle", "filled": false, "size": 36, "strokeWidth": 1.1, "color": "#ff0000", "clip": true},
    "encoding": {
      "x": {"field": "d", "type": "quantitative", "scale": {"domain": [0, 900], "nice": false, "zero": false},
            "axis": {"orient": "bottom", "values": [50,150,250,350,450,550,650,750,850], "grid": false, "tickSize": 3, "labels": false, "title": null}},
      "y": {"field": "c", "type": "quantitative", "scale": {"type": "log", "domain": [1.51e15, 1e21], "nice": false},
            "axis": {"orient": "left", "values": [1e16,1e17,1e18,1e19,1e20,1e21], "grid": false, "tickSize": 4, "labelExpr": "format(round(log(datum.value)/LN10),'d')", "labelFontSize": 15.5, "labelPadding": 6, "labelOffset": {"condition": {"test": "datum.value > 5e20", "value": 0}, "value": -8.5}, "title": null}}
    }},
   {"transform": [{"filter": "datum.s === '# P4 SIMS/1.73'"}],
    "mark": {"type": "line", "strokeWidth": 1.4, "color": "#11ee11", "clip": true, "strokeJoin": "round"},
    "encoding": {
      "x": {"field": "d", "type": "quantitative", "scale": {"domain": [0, 900], "nice": false, "zero": false}, "axis": null},
      "y": {"field": "c", "type": "quantitative", "scale": {"type": "log", "domain": [1.51e15, 1e21], "nice": false}, "axis": null}
    }},
   {"transform": [{"filter": "datum.s === '# P4 SIMS/1.73'"}],
    "mark": {"type": "point", "shape": "square", "filled": false, "size": 7, "strokeWidth": 1, "color": "#11ee11", "clip": true},
    "encoding": {
      "x": {"field": "d", "type": "quantitative", "scale": {"domain": [0, 900], "nice": false, "zero": false}, "axis": null},
      "y": {"field": "c", "type": "quantitative", "scale": {"type": "log", "domain": [1.51e15, 1e21], "nice": false}, "axis": null}
    }},
   {"transform": [{"filter": "datum.s === '# T4 ECVP, decreasing f'"}],
    "mark": {"type": "line", "strokeWidth": 1.1, "color": "#0000ff", "clip": true},
    "encoding": {
      "x": {"field": "d", "type": "quantitative", "scale": {"domain": [0, 900], "nice": false, "zero": false}, "axis": null},
      "y": {"field": "c", "type": "quantitative", "scale": {"type": "log", "domain": [1.51e15, 1e21], "nice": false}, "axis": null},
      "order": {"field": "o", "type": "quantitative"}
    }},
   {"transform": [{"filter": "datum.s === '# T4 ECVP, decreasing f'"}],
    "mark": {"type": "point", "shape": "square", "filled": false, "size": 26, "strokeWidth": 1.2, "color": "#0000ff", "clip": true},
    "encoding": {
      "x": {"field": "d", "type": "quantitative", "scale": {"domain": [0, 900], "nice": false, "zero": false}, "axis": null},
      "y": {"field": "c", "type": "quantitative", "scale": {"type": "log", "domain": [1.51e15, 1e21], "nice": false}, "axis": null}
    }},
   {"data": {"values": [{"d": 153.6, "c": 4.22e20, "t": "(b)"}]},
    "mark": {"type": "text", "fontSize": 24, "color": "#000"},
    "encoding": {
      "x": {"field": "d", "type": "quantitative", "scale": {"domain": [0, 900], "nice": false, "zero": false}, "axis": null},
      "y": {"field": "c", "type": "quantitative", "scale": {"type": "log", "domain": [1.51e15, 1e21], "nice": false}, "axis": null},
      "text": {"field": "t"}
    }}
  ]}
]
}
